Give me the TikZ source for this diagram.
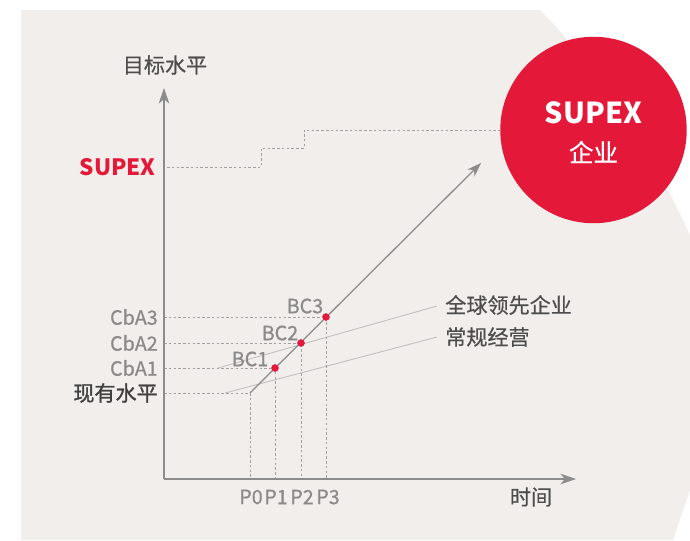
\documentclass[tikz,border=0pt]{standalone}
\usepackage{fontspec}
\setmainfont{Noto Sans CJK SC}
\newfontfamily\heavyfont{Noto Sans CJK SC}[FakeBold=1.2]
\newfontfamily\semifont{Noto Sans CJK SC}[FakeBold=0.5]
\usetikzlibrary{arrows.meta}
\definecolor{supexred}{HTML}{E4193A}
\definecolor{paper}{HTML}{F1EEEB}
\definecolor{axisgray}{HTML}{8C8C8C}
\definecolor{dashgray}{HTML}{A0A0A0}
\definecolor{labelgray}{HTML}{8A8A8A}
\definecolor{labeldark}{HTML}{4D4D4D}
\definecolor{guidegray}{HTML}{BEBEBE}
\begin{document}
\begin{tikzpicture}[x=0.025cm,y=-0.025cm]
  \tikzstyle{every node}+=[inner sep=0pt]
  \tikzstyle{axis}=[axisgray, line width=1.3pt, -{Stealth[length=11pt,width=7.5pt,inset=3pt]}]
  \tikzstyle{trend}=[axisgray, line width=0.9pt, -{Stealth[length=10pt,width=7pt,inset=3pt]}]
  \tikzstyle{guide}=[dashgray, line width=0.7pt, dash pattern=on 1.8pt off 1.6pt]
  \tikzstyle{path line}=[guidegray, line width=0.6pt]
  \tikzstyle{bcdot}=[circle, fill=supexred, minimum size=5.2pt]
  \tikzstyle{cba}=[labelgray, font=\fontsize{14}{16}\semifont]
  \tikzstyle{cjk}=[labeldark, font=\fontsize{15}{18}\semifont]
  \useasboundingbox (0,0) rectangle (690,540);
  \fill [paper] (21,10) -- (540,10) .. controls (600,70) and (670,180) .. (700,260) -- (700,460) .. controls (690,490) .. (673,540) -- (21,540) -- cycle;
  \coordinate (O) at (164,479);
  \coordinate (ytip) at (164,88);
  \coordinate (xtip) at (576,479);
  \coordinate (P0) at (250,393);
  \coordinate (dtip) at (481,163);
  \node [circle, fill=supexred, minimum size=132.6pt] (goal) at (593.5,130) {};
  \node [white, font=\fontsize{20.5}{24}\selectfont\bfseries] (goaltop) at (593.5,113) {SUPEX};
  \node [white, font=\fontsize{17.5}{20}\semifont] (goalbot) at (593.5,152) {企业};
  \coordinate (s0) at (167,167);
  \draw [guide] (s0) -- (261,167) -- (261,148) -- (304,148) -- (304,130) -- (goal.west);
  \coordinate (g1) at (218,368);
  \coordinate (g2) at (437,306);
  \coordinate (n1) at (225,393);
  \coordinate (n2) at (437,337);
  \draw [path line] (g1) -- (g2);
  \draw [path line] (n1) -- (n2);
  \node [bcdot] (bc1) at (275,368) {};
  \node [bcdot] (bc2) at (301,343) {};
  \node [bcdot] (bc3) at (326,317) {};
  \draw [guide] (O |- P0) -- (P0) -- (P0 |- O);
  \draw [guide] (O |- bc1) -- (bc1.center) -- (bc1 |- O);
  \draw [guide] (O |- bc2) -- (bc2.center) -- (bc2 |- O);
  \draw [guide] (O |- bc3) -- (bc3.center) -- (bc3 |- O);
  \draw [trend] (P0) -- (dtip);
  \node [bcdot] at (bc1) {};
  \node [bcdot] at (bc2) {};
  \node [bcdot] at (bc3) {};
  \draw [axis] (O) -- (ytip);
  \draw [axis] (O) -- (xtip);
  \node [cjk] (ylabel) at (165,65) {目标水平};
  \node [cjk] (xlabel) at (531,497) {时间};
  \node [supexred, anchor=east, font=\fontsize{16}{20}\selectfont\bfseries] (supex) at (156,167) {SUPEX};
  \node [cba, anchor=east] (cba3) at (158,317) {CbA3};
  \node [cba, anchor=east] (cba2) at (158,343) {CbA2};
  \node [cba, anchor=east] (cba1) at (158,368) {CbA1};
  \node [anchor=east, color=black!75, font=\fontsize{15}{18}\heavyfont] (now) at (158,393) {现有水平};
  \node [cba] (lbc1) at (250,359) {BC1};
  \node [cba] (lbc2) at (280,333) {BC2};
  \node [cba] (lbc3) at (305,306) {BC3};
  \node [cba] (p0) at (251,497) {P0};
  \node [cba] (p1) at (276,497) {P1};
  \node [cba] (p2) at (302,497) {P2};
  \node [cba] (p3) at (328,497) {P3};
  \node [cjk, anchor=west] (lead) at (445,305) {全球领先企业};
  \node [cjk, anchor=west] (usual) at (445,337) {常规经营};
\end{tikzpicture}
\end{document}
